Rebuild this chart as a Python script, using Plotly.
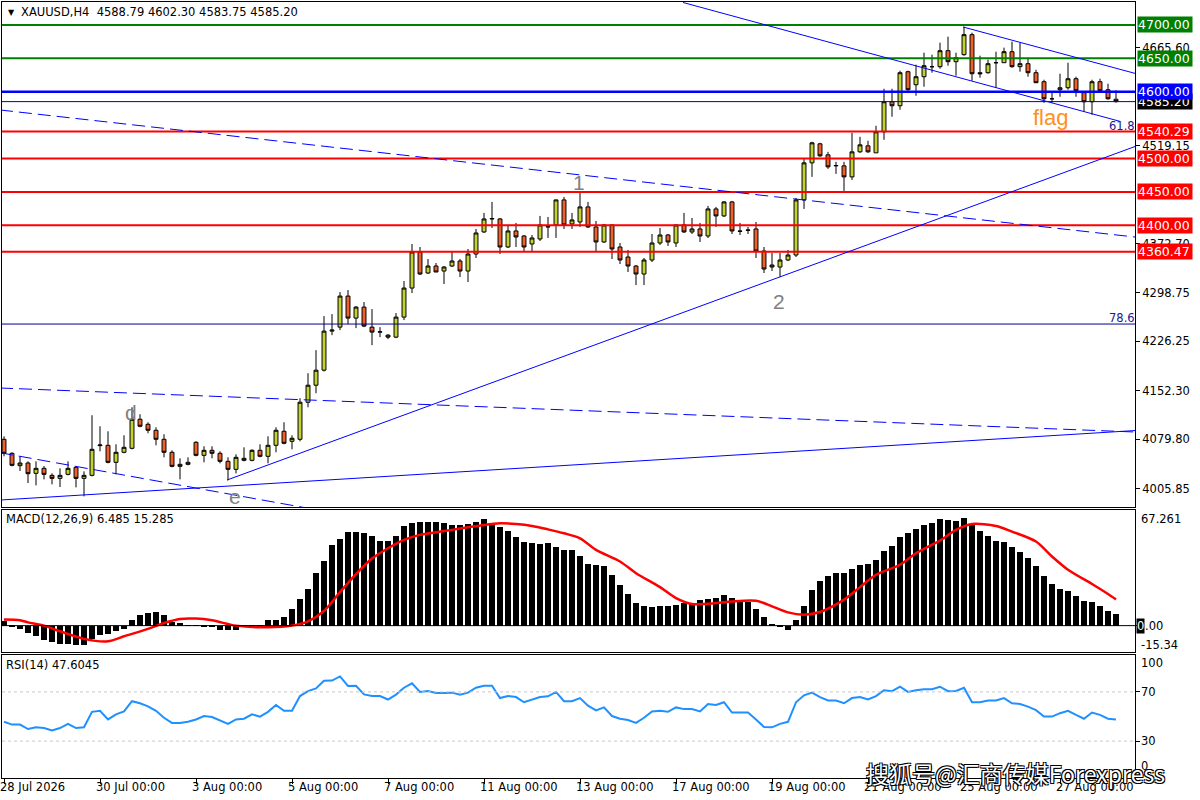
import plotly.graph_objects as go

# ---------------- data ----------------
opens = [4079.5, 4058.5, 4040, 4044, 4028.5, 4036, 4025.5, 4021, 4027, 4037.5,
 4021, 4025.5, 4070, 4070.5, 4045, 4060, 4066, 4109.5, 4102, 4093,
 4079.5, 4060, 4039, 4042, 4075, 4055.5, 4063, 4058.5, 4046.5, 4034.5,
 4048, 4048, 4063, 4054, 4070.5, 4091.5, 4076.5, 4079.5, 4135, 4160.5,
 4183, 4241.5, 4247.5, 4294, 4261, 4277.5, 4247.5, 4240, 4235.5, 4232.5,
 4262.5, 4306, 4360, 4328.5, 4339, 4331.5, 4339, 4346.5, 4331.5, 4357,
 4390, 4409.5, 4409.5, 4367.5, 4391.5, 4384, 4372, 4379.5, 4397.5, 4400.5,
 4438, 4402, 4405, 4427.5, 4397.5, 4375, 4400.5, 4367.5, 4352.5, 4339,
 4327, 4348, 4373.5, 4385.5, 4373.5, 4400.5, 4390, 4394.5, 4384, 4424.5,
 4414, 4435, 4391.5, 4393, 4394.5, 4361.5, 4340.5, 4337.5, 4348, 4355.5,
 4438, 4493.5, 4522, 4505.5, 4489, 4489, 4472.5, 4510, 4519, 4508.5,
 4540, 4585, 4579, 4630, 4610.5, 4622.5, 4637.5, 4637.5, 4661.5, 4645,
 4655.5, 4685.5, 4628.5, 4628.5, 4643.5, 4643.5, 4660, 4637.5, 4642, 4628.5,
 4615, 4589.5, 4603, 4606, 4619.5, 4598.5, 4585, 4615, 4603, 4588.79]

highs = [4084, 4060, 4054, 4046.5, 4046.5, 4039.5, 4028.5, 4036, 4046.5, 4039,
 4031.5, 4115.5, 4099, 4091.5, 4072, 4085.5, 4127.5, 4117, 4105, 4097.5,
 4087, 4063, 4051, 4052.5, 4076.5, 4069, 4069, 4061.5, 4052.5, 4057,
 4067.5, 4064.5, 4072, 4084, 4097.5, 4105, 4085.5, 4141, 4178.5, 4213,
 4264, 4267, 4300, 4303, 4279, 4285, 4274.5, 4247.5, 4237, 4268.5,
 4316.5, 4372, 4367.5, 4349.5, 4343.5, 4339, 4360, 4349.5, 4364.5, 4394.5,
 4418.5, 4435, 4411, 4400.5, 4403.5, 4385.5, 4385.5, 4414, 4412.5, 4438.5,
 4442.5, 4418.5, 4450, 4435, 4406.5, 4402, 4401, 4373.5, 4363, 4340.5,
 4351, 4387, 4396, 4387, 4401, 4418.5, 4411, 4403.5, 4429, 4427.5,
 4436, 4436.5, 4403.5, 4397.5, 4405, 4367.5, 4358.5, 4358.5, 4363, 4441,
 4499.5, 4525, 4523.5, 4510, 4495, 4495, 4538.5, 4532.5, 4526.5, 4549,
 4604.5, 4604.5, 4631.5, 4631.5, 4640.5, 4658.5, 4655.5, 4673.5, 4682.5, 4658.5,
 4697.5, 4688.5, 4654, 4648, 4660, 4666, 4675, 4673.5, 4649.5, 4633,
 4618, 4598.5, 4627, 4643.5, 4622.5, 4600, 4618, 4619.5, 4612, 4602.30]

lows = [4054, 4039, 4032, 4014, 4010.5, 4019.5, 4012, 4008, 4025.5, 4007.5,
 3994, 4024, 4061.5, 4043.5, 4027, 4058.5, 4064.5, 4097.5, 4088.5, 4070.5,
 4052.5, 4037.5, 4019.5, 4040.5, 4054, 4045, 4051, 4043.5, 4018, 4028.5,
 4046.5, 4046.5, 4052.5, 4043.5, 4060, 4072, 4064.5, 4076.5, 4127.5, 4148.5,
 4181, 4235.5, 4243, 4252, 4246, 4247.5, 4220.5, 4232.5, 4229.5, 4231,
 4258, 4298.5, 4325.5, 4327, 4330, 4312, 4337.5, 4322.5, 4315, 4351,
 4388.5, 4396, 4357, 4366, 4367.5, 4361.5, 4361.5, 4376.5, 4381, 4381,
 4394.5, 4394.5, 4397.5, 4396, 4361.5, 4373.5, 4349.5, 4342, 4330, 4310.5,
 4310.5, 4345, 4370.5, 4369, 4367.5, 4388.5, 4387, 4375, 4381, 4397.5,
 4412.5, 4387, 4385.5, 4387, 4351, 4328.5, 4331.5, 4322.5, 4346.5, 4352.5,
 4424.5, 4472.5, 4502.5, 4484.5, 4477, 4451.5, 4468, 4508.5, 4508.5, 4508.5,
 4528, 4562.5, 4573, 4601.5, 4594, 4607.5, 4628.5, 4634.5, 4639, 4624,
 4654, 4616.5, 4621, 4627, 4606, 4643.5, 4636, 4630, 4622.5, 4613.5,
 4583.5, 4583.5, 4592.5, 4603, 4592.5, 4570, 4565.5, 4600, 4588, 4583.75]

closes = [4058.5, 4040.5, 4044, 4028, 4036, 4027, 4021, 4025.5, 4036, 4021,
 4025.5, 4064.5, 4071, 4045, 4060, 4067.5, 4109.5, 4099, 4093, 4079.5,
 4060, 4039, 4042, 4045, 4055.5, 4063, 4058.5, 4046.5, 4034.5, 4052.5,
 4051, 4063, 4054, 4070.5, 4093, 4073.5, 4081, 4135, 4160.5, 4183,
 4241.5, 4243, 4294, 4261, 4277.5, 4249, 4240, 4240.5, 4232.5, 4262.5,
 4306, 4360, 4327, 4339, 4330, 4337.5, 4346.5, 4331.5, 4357, 4388.5,
 4409.5, 4410, 4367.5, 4391.5, 4382.5, 4367.5, 4381, 4400.5, 4398, 4438,
 4400.5, 4408, 4427.5, 4397.5, 4375, 4400.5, 4364.5, 4348, 4339, 4327,
 4348, 4373.5, 4385.5, 4375, 4400.5, 4390, 4394.5, 4384, 4424.5, 4414,
 4435, 4391.5, 4391, 4392.5, 4361.5, 4334.5, 4337.5, 4348, 4355.5, 4438,
 4493.5, 4523.5, 4504, 4487.5, 4489.5, 4472.5, 4510, 4520.5, 4510, 4540,
 4585, 4579, 4628.5, 4603, 4622.5, 4639, 4637.5, 4661.5, 4645, 4651,
 4685.5, 4627, 4627, 4642, 4643.5, 4660, 4637.5, 4642, 4628.5, 4613.5,
 4589.5, 4589.5, 4606, 4619.5, 4601.5, 4585, 4615, 4601.5, 4589.5, 4585.20]

macd_hist = [2.5, -1.0, -1.9, -4.3, -6.2, -8.1, -9.7, -10.6, -10.4, -11.4,
 -11.4, -7.7, -5.6, -4.6, -3.3, -1.9, 3.5, 6.4, 7.3, 7.9,
 6.4, 2.1, 1.5, 0.3, 0.1, -0.3, -1.0, -2.3, -2.3, -2.3,
 -0.4, 0.1, 0.2, 3.1, 3.5, 4.8, 9.9, 15.7, 21.4, 30.9,
 37.7, 47.0, 50.2, 54.3, 54.3, 53.7, 52.2, 49.3, 49.3, 52.2,
 58.0, 59.5, 60.5, 60.1, 60.1, 59.5, 58.6, 58.6, 58.9, 60.5,
 61.8, 59.5, 57.6, 55.1, 51.8, 48.9, 47.9, 47.3, 47.9, 46.0,
 44.1, 44.1, 40.6, 35.9, 35.0, 34.4, 29.6, 23.8, 18.6, 13.1,
 11.2, 10.8, 11.2, 11.2, 12.2, 13.1, 12.8, 15.1, 15.7, 16.0,
 18.0, 16.0, 14.1, 13.5, 9.9, 4.8, 1.2, -1.0, -2.7, 3.5,
 11.6, 20.9, 26.1, 29.0, 30.9, 30.9, 32.9, 35.4, 35.9, 38.3,
 43.5, 46.4, 51.4, 53.7, 56.0, 58.6, 59.5, 61.8, 61.4, 60.9,
 62.4, 58.6, 55.1, 52.2, 49.5, 48.5, 45.6, 42.7, 39.2, 34.8,
 29.0, 24.3, 21.3, 20.3, 17.4, 14.1, 13.5, 11.6, 8.7, 6.485]

signal_x = [0, 2, 3, 5, 7, 10, 13, 15, 18, 20, 22, 24, 26, 29, 33, 36, 38, 40, 42,
 44, 46, 48, 50, 52, 54, 56, 58, 60, 62, 64, 66, 68, 70, 72, 74, 77, 79, 82, 84,
 86, 89, 91, 94, 96, 98, 100, 102, 105, 107, 109, 112, 114, 117, 119, 121, 124,
 126, 129, 131, 133, 136, 138, 139]
signal_v = [3.5, 3.1, 1.9, 0.0, -3.3, -7.7, -9.1, -6.2, -1.9, 1.5, 3.9, 4.1, 3.1,
 0.0, -1.0, 0.0, 2.5, 8.5, 19.5, 30.0, 39.0, 45.0, 49.9, 52.8, 54.3, 55.7, 57.2,
 58.6, 59.5, 59.1, 58.0, 56.0, 53.7, 50.8, 44.1, 37.3, 30.5, 22.4, 16.0, 12.6,
 13.1, 14.1, 14.5, 11.2, 7.7, 6.4, 7.9, 15.1, 22.4, 29.6, 35.4, 42.1, 49.5, 55.7,
 59.1, 58.0, 54.7, 48.9, 40.2, 32.5, 24.2, 18.4, 15.285]

rsi = [45.7, 43.4, 43.4, 39.8, 41.2, 40.6, 38.7, 40.6, 44.0, 40.6,
 41.2, 53.8, 54.6, 47.6, 51.8, 54.1, 62.4, 60.8, 58.3, 54.6,
 49.0, 44.8, 44.8, 45.7, 47.6, 50.4, 49.6, 46.8, 44.0, 47.6,
 48.2, 51.8, 49.9, 53.8, 59.4, 54.6, 54.6, 66.6, 70.6, 72.8,
 79.0, 79.2, 82.6, 74.8, 75.0, 68.0, 66.6, 66.6, 63.8, 67.8,
 73.4, 77.0, 70.0, 70.8, 69.2, 69.2, 69.4, 67.8, 69.4, 73.4,
 75.0, 75.0, 65.0, 66.6, 65.8, 61.6, 63.6, 65.8, 66.4, 70.0,
 62.4, 62.4, 65.0, 58.8, 55.0, 57.4, 50.4, 48.2, 47.1, 44.8,
 49.0, 54.1, 54.6, 53.8, 57.4, 56.0, 56.0, 54.1, 60.2, 59.4,
 61.6, 53.2, 53.2, 53.2, 47.6, 41.5, 41.2, 44.0, 45.7, 61.6,
 67.2, 69.4, 65.8, 63.0, 63.0, 60.8, 65.0, 65.8, 63.8, 66.6,
 71.4, 70.6, 74.2, 70.0, 71.4, 72.2, 72.2, 74.2, 70.6, 70.8,
 73.4, 61.6, 61.6, 63.0, 63.0, 65.0, 60.8, 60.2, 58.0, 55.2,
 49.9, 49.9, 52.7, 54.6, 51.3, 48.2, 53.2, 51.3, 48.2, 47.6045]

date_ticks = [0, 12, 24, 36, 48, 60, 72, 84, 96, 108, 120, 132]
date_labels = ["28 Jul 2026", "30 Jul 00:00", "3 Aug 00:00", "5 Aug 00:00",
               "7 Aug 00:00", "11 Aug 00:00", "13 Aug 00:00", "17 Aug 00:00",
               "19 Aug 00:00", "21 Aug 00:00", "25 Aug 00:00", "27 Aug 00:00"]

price_ticks = [4665.60, 4519.15, 4372.70, 4298.75, 4226.25, 4152.30, 4079.80, 4005.85]

green_levels = [4700.00, 4650.00]
blue_level = 4600.00
bid_level = 4585.20
red_levels = [4540.29, 4500.00, 4450.00, 4400.00, 4360.47]
fib_786_level = 4252.1

# trend lines: (bar index, price) endpoints
trend_solid = [((84.875, 4733.7), (139.5, 4555.6)),
               ((119.875, 4697.0), (141.375, 4627.5)),
               ((27.875, 4018.5), (141.375, 4518.0)),
               ((-0.5, 3988.5), (141.375, 4092.6))]
trend_dashed = [((-0.5, 4572.7), (141.375, 4382.4)),
                ((-0.5, 4156.3), (141.375, 4090.4)),
                ((-0.5, 4059.4), (39.5, 3973.0))]

idx = list(range(len(opens)))

# ---------------- styling ----------------
W, H = 1200, 800
BULL = "#C3D22C"
BEAR = "#F2602A"
FONT = "DejaVu Sans"

def px(x):
    return x / W

def py(y):
    return 1 - y / H

X0, X1 = 2, 1135
xdom = [px(X0), px(X1)]
xrange_ = [-0.25, 141.375]

fig = go.Figure()

fig.add_trace(go.Candlestick(
    x=idx, open=opens, high=highs, low=lows, close=closes,
    increasing=dict(fillcolor=BULL, line=dict(color="black", width=1)),
    decreasing=dict(fillcolor=BEAR, line=dict(color="black", width=1)),
    whiskerwidth=0, hoverinfo="skip", showlegend=False,
    xaxis="x", yaxis="y"))

fig.add_trace(go.Bar(x=idx, y=macd_hist, marker=dict(color="black", line=dict(width=0)),
                     width=0.72, showlegend=False, xaxis="x2", yaxis="y2", hoverinfo="skip"))
fig.add_trace(go.Scatter(x=signal_x, y=signal_v, mode="lines",
                         line=dict(color="#FF0000", width=2.5, shape="spline", smoothing=0.8),
                         showlegend=False, xaxis="x2", yaxis="y2", hoverinfo="skip"))
fig.add_trace(go.Scatter(x=idx, y=rsi, mode="lines",
                         line=dict(color="#1E90FF", width=2),
                         showlegend=False, xaxis="x3", yaxis="y3", hoverinfo="skip"))

axis_common = dict(showgrid=False, zeroline=False, showline=True, mirror=True,
                   linecolor="black", linewidth=1)

fig.update_layout(
    width=W, height=H, margin=dict(l=0, r=0, t=0, b=0),
    paper_bgcolor="white", plot_bgcolor="white",
    font=dict(family=FONT, size=11, color="black"),
    showlegend=False, bargap=0,
    xaxis=dict(domain=xdom, range=xrange_, anchor="y", showticklabels=False,
               rangeslider=dict(visible=False), **axis_common),
    xaxis2=dict(domain=xdom, range=xrange_, anchor="y2", matches="x",
                showticklabels=False, **axis_common),
    xaxis3=dict(domain=xdom, range=xrange_, anchor="y3", matches="x",
                showticklabels=False, ticks="outside", ticklen=5, tickcolor="black",
                tickvals=date_ticks, **axis_common),
    yaxis=dict(domain=[py(507), py(2)], range=[3978.1, 4734.4], side="right",
               tickvals=price_ticks, ticktext=["%.2f" % v for v in price_ticks],
               ticks="outside", ticklen=4, tickcolor="black",
               tickfont=dict(family=FONT, size=11.5, color="black"), **axis_common),
    yaxis2=dict(domain=[py(652), py(510)], range=[-15.34, 67.261], side="right",
                showticklabels=False, ticks="outside", ticklen=4, tickcolor="black",
                tickvals=[0], **axis_common),
    yaxis3=dict(domain=[py(778), py(655)], range=[0, 100], side="right",
                showticklabels=False, ticks="outside", ticklen=4, tickcolor="black",
                tickvals=[70, 30], **axis_common),
)

shapes = []
for lv in green_levels:
    shapes.append(dict(type="line", xref="x domain", yref="y", x0=0, x1=1, y0=lv, y1=lv,
                       line=dict(color="#008000", width=2)))
for lv in red_levels:
    shapes.append(dict(type="line", xref="x domain", yref="y", x0=0, x1=1, y0=lv, y1=lv,
                       line=dict(color="#FF0000", width=2)))
shapes.append(dict(type="line", xref="x domain", yref="y", x0=0, x1=1, y0=blue_level, y1=blue_level,
                   line=dict(color="#0000FF", width=2.5)))
shapes.append(dict(type="line", xref="x domain", yref="y", x0=0, x1=1, y0=bid_level, y1=bid_level,
                   line=dict(color="#0000B0", width=1)))
shapes.append(dict(type="line", xref="x domain", yref="y", x0=0, x1=1, y0=fib_786_level, y1=fib_786_level,
                   line=dict(color="#000090", width=1)))
for (a, b) in trend_solid:
    shapes.append(dict(type="line", xref="x", yref="y", x0=a[0], y0=a[1], x1=b[0], y1=b[1],
                       line=dict(color="#0000FF", width=1)))
for (a, b) in trend_dashed:
    shapes.append(dict(type="line", xref="x", yref="y", x0=a[0], y0=a[1], x1=b[0], y1=b[1],
                       line=dict(color="#0000FF", width=1, dash="13px,6px")))
# MACD zero line, RSI levels
shapes.append(dict(type="line", xref="x2 domain", yref="y2", x0=0, x1=1, y0=0, y1=0,
                   line=dict(color="black", width=1)))
for lv in (70, 30):
    shapes.append(dict(type="line", xref="x3 domain", yref="y3", x0=0, x1=1, y0=lv, y1=lv,
                       line=dict(color="#C8C8C8", width=1, dash="3px,3px")))
fig.update_layout(shapes=shapes)

ann = []
def text(x, y, t, size=11, color="black", xanchor="left", family=FONT, yref="paper", yv=None, **kw):
    ann.append(dict(xref="paper", yref=yref, x=px(x), y=(py(y) if yv is None else yv),
                    text=t, showarrow=False, xanchor=xanchor, yanchor="middle",
                    font=dict(family=family, size=size, color=color), **kw))

# title and indicator labels
text(11, 12, "▼", size=8, xanchor="center")
text(19, 12, "XAUUSD,H4\u00a0\u00a04588.79 4602.30 4583.75 4585.20", size=11.5)
text(4, 519, "MACD(12,26,9) 6.485 15.285", size=11.5)
text(4, 665, "RSI(14) 47.6045", size=11.5)

# boxed price labels
def box(price, t, bg, fg="white"):
    ann.append(dict(xref="paper", yref="y", x=px(1137), y=price, text=t, showarrow=False,
                    xanchor="left", yanchor="middle", align="left", width=54,
                    bgcolor=bg, borderpad=0,
                    font=dict(family=FONT, size=12.5, color=fg)))
box(bid_level, "4585.20", "black")
box(blue_level, "4600.00", "#0000FF")
for lv in green_levels:
    box(lv, "%.2f" % lv, "#008000")
for lv in red_levels:
    box(lv, "%.2f" % lv, "#FF0000")

# MACD / RSI scale labels
text(1139, 519, "67.261", size=11.5)
text(1139, 645, "-15.34", size=11.5)
ann.append(dict(xref="paper", yref="y2", x=px(1136), y=0, text="0", showarrow=False,
                xanchor="left", yanchor="middle", bgcolor="black", borderpad=0,
                font=dict(family=FONT, size=11.5, color="white")))
ann.append(dict(xref="paper", yref="y2", x=px(1143), y=0, text=".00", showarrow=False,
                xanchor="left", yanchor="middle", font=dict(family=FONT, size=11.5, color="black")))
text(1139, 663, "100", size=11.5)
text(1139, 0, "70", yref="y3", yv=70, size=11.5)
text(1139, 0, "30", yref="y3", yv=30, size=11.5)
text(1139, 766, "0", size=11.5)

# fib labels
text(1137, 126, "61.8", color="#202090", xanchor="right", size=11.5)
text(1137, 318, "78.6", color="#202090", xanchor="right", size=11.5)

# wave labels
GRAY = "#808080"
text(131, 412, "d", size=21, color=GRAY, xanchor="center", family="Liberation Sans")
text(235, 496, "e", size=21, color=GRAY, xanchor="center", family="Liberation Sans")
text(579, 182, "1", size=21, color=GRAY, xanchor="center", family="Liberation Sans")
text(779, 301, "2", size=21, color=GRAY, xanchor="center", family="Liberation Sans")
text(1050, 118, "flag", size=22, color="#FF9020", xanchor="center", family="Liberation Sans")

# date labels
for t, lab in zip(date_ticks, date_labels):
    text(8 * t - 2, 787, lab, size=11.5)

# watermark
ann.append(dict(xref="paper", yref="paper", x=px(1015), y=py(773), text="搜狐号@汇商传媒Forexpress",
                showarrow=False, xanchor="center", yanchor="middle",
                font=dict(family="Noto Sans CJK SC", size=23, color="white",
                          shadow="1px 1px 0 #000, -1px -1px 0 #000, 1px -1px 0 #000, -1px 1px 0 #000")))

fig.update_layout(annotations=ann)

fig.write_html("out.html", config={"displayModeBar": False},
               post_script="document.body.style.margin='0px';")
